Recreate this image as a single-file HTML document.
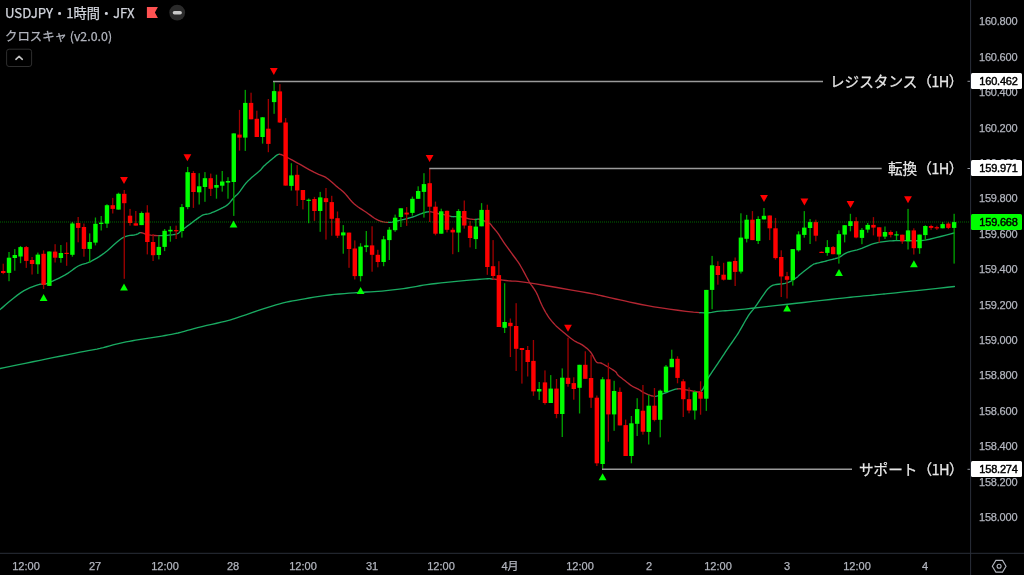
<!DOCTYPE html>
<html><head><meta charset="utf-8"><style>
html,body{margin:0;padding:0;background:#000;}
body{width:1024px;height:575px;overflow:hidden;position:relative;font-family:"Liberation Sans","Noto Sans CJK JP",sans-serif;}
svg{position:absolute;left:0;top:0;}
.t{position:absolute;white-space:nowrap;}
div{-webkit-text-stroke:0.25px currentColor;will-change:transform;}
.pl{position:absolute;left:979.3px;font-size:11px;letter-spacing:-0.2px;color:#b2b5be;line-height:14px;}
.tl{position:absolute;top:558.6px;font-size:11px;color:#b2b5be;line-height:14px;transform:translateX(-50%);}
.box{position:absolute;left:971px;width:51px;height:16px;border-radius:1.5px;font-size:11px;line-height:16px;color:#000;}
.box span{position:absolute;left:8.3px;top:0;letter-spacing:-0.2px;-webkit-text-stroke:0.45px #000;}
.lvl{position:absolute;font-family:"Noto Sans CJK JP","Liberation Sans",sans-serif;font-size:14.6px;color:#e6e6e6;line-height:16px;}
</style></head><body>
<svg width="1024" height="575" viewBox="0 0 1024 575">
<g fill="none" stroke-width="1.35" stroke-linejoin="round" stroke-linecap="round">
<path d="M0.00,368.50 L4.35,367.61 L10.37,366.37 L17.50,364.91 L25.19,363.33 L32.87,361.76 L40.00,360.30 L46.90,358.89 L54.07,357.43 L61.25,355.98 L68.15,354.58 L74.49,353.30 L80.00,352.20 L84.50,351.33 L88.17,350.66 L91.28,350.11 L94.11,349.60 L96.93,349.06 L100.00,348.40 L103.28,347.61 L106.54,346.74 L109.78,345.84 L113.02,344.94 L116.26,344.08 L119.50,343.30 L122.75,342.59 L126.00,341.94 L129.24,341.32 L132.49,340.73 L135.74,340.16 L139.00,339.60 L142.26,339.07 L145.53,338.57 L148.80,338.09 L152.07,337.62 L155.34,337.13 L158.60,336.60 L161.85,336.06 L165.10,335.51 L168.35,334.95 L171.60,334.36 L174.85,333.71 L178.10,333.00 L181.27,332.21 L184.34,331.37 L187.41,330.47 L190.59,329.53 L193.99,328.57 L197.70,327.60 L201.98,326.57 L206.81,325.46 L211.84,324.33 L216.77,323.22 L221.26,322.19 L225.00,321.30 L227.76,320.60 L229.76,320.07 L231.33,319.62 L232.79,319.17 L234.47,318.62 L236.70,317.90 L239.47,316.98 L242.51,315.94 L245.77,314.80 L249.19,313.61 L252.72,312.40 L256.30,311.20 L260.02,309.97 L263.93,308.67 L267.96,307.34 L271.99,306.06 L275.94,304.86 L279.70,303.80 L283.16,302.92 L286.36,302.18 L289.48,301.53 L292.68,300.91 L296.13,300.29 L300.00,299.60 L304.36,298.83 L309.10,298.02 L314.09,297.19 L319.20,296.39 L324.31,295.65 L329.30,295.00 L334.25,294.45 L339.29,293.97 L344.32,293.55 L349.27,293.17 L354.06,292.83 L358.60,292.50 L362.82,292.22 L366.76,292.01 L370.54,291.84 L374.27,291.65 L378.05,291.42 L382.00,291.10 L386.18,290.69 L390.53,290.20 L394.94,289.68 L399.29,289.12 L403.48,288.55 L407.40,288.00 L410.89,287.45 L414.00,286.89 L416.96,286.31 L419.96,285.74 L423.24,285.16 L427.00,284.60 L431.32,284.03 L436.05,283.46 L441.05,282.89 L446.18,282.33 L451.31,281.80 L456.30,281.30 L461.43,280.82 L466.87,280.34 L472.31,279.89 L477.43,279.48 L481.93,279.14 L485.50,278.90 L487.82,278.75 L489.06,278.69 L489.69,278.69 L490.14,278.75 L490.86,278.86 L492.30,279.00" stroke="#1aab62"/>
<path d="M492.30,279.00 L494.48,279.20 L497.03,279.47 L499.86,279.79 L502.86,280.14 L505.90,280.48 L508.90,280.80 L511.39,281.00 L513.39,281.08 L515.43,281.16 L518.09,281.36 L521.93,281.80 L527.50,282.60 L535.77,283.93 L546.49,285.73 L558.39,287.76 L570.19,289.81 L580.61,291.63 L588.40,293.00 L593.09,293.84 L595.61,294.31 L596.76,294.57 L597.34,294.74 L598.15,294.97 L600.00,295.40 L602.69,296.00 L605.53,296.66 L608.60,297.37 L611.99,298.14 L615.76,298.99 L620.00,299.90 L624.72,300.92 L629.86,302.06 L635.39,303.26 L641.27,304.49 L647.49,305.68 L654.00,306.80 L661.25,307.93 L669.34,309.12 L677.76,310.28 L685.99,311.33 L693.51,312.16 L699.80,312.70" stroke="#b42632"/>
<path d="M699.80,312.70 L704.67,312.87 L708.49,312.71 L711.59,312.36 L714.33,311.90 L717.02,311.44 L720.00,311.10 L722.88,310.90 L725.30,310.76 L727.68,310.62 L730.43,310.44 L733.97,310.15 L738.70,309.70 L744.83,309.06 L752.07,308.27 L760.09,307.37 L768.57,306.42 L777.18,305.45 L785.60,304.50 L794.26,303.53 L803.52,302.49 L812.91,301.43 L821.96,300.40 L830.21,299.48 L837.20,298.70 L842.70,298.10 L847.04,297.63 L850.58,297.26 L853.67,296.94 L856.70,296.63 L860.00,296.30 L863.54,295.95 L867.03,295.62 L870.44,295.30 L873.75,294.99 L876.94,294.69 L880.00,294.40 L882.38,294.17 L883.99,294.02 L885.49,293.88 L887.52,293.67 L890.74,293.34 L895.80,292.80 L903.77,291.95 L914.33,290.81 L926.09,289.55 L937.62,288.31 L947.53,287.24 L954.40,286.50" stroke="#1aab62"/>
<path d="M0.00,309.60 L2.32,307.64 L5.57,304.85 L9.39,301.59 L13.46,298.21 L17.41,295.10 L20.90,292.60 L24.04,290.69 L27.11,289.08 L30.08,287.72 L32.89,286.58 L35.48,285.62 L37.80,284.80 L39.67,284.29 L41.10,284.16 L42.32,284.20 L43.55,284.23 L45.03,284.06 L47.00,283.50 L49.57,282.49 L52.59,281.19 L55.86,279.67 L59.18,278.06 L62.36,276.44 L65.20,274.90 L67.69,273.38 L70.00,271.78 L72.16,270.17 L74.23,268.63 L76.26,267.21 L78.30,266.00 L80.30,265.08 L82.20,264.42 L84.07,263.89 L85.95,263.37 L87.91,262.71 L90.00,261.80 L92.20,260.67 L94.46,259.44 L96.79,258.09 L99.22,256.58 L101.75,254.89 L104.40,253.00 L107.27,250.70 L110.37,247.96 L113.58,245.04 L116.77,242.21 L119.82,239.71 L122.60,237.80 L125.17,236.57 L127.64,235.83 L129.96,235.43 L132.11,235.21 L134.03,235.02 L135.70,234.70 L137.01,234.24 L137.97,233.77 L138.71,233.32 L139.36,232.95 L140.05,232.70 L140.90,232.60" stroke="#1aab62"/>
<path d="M140.90,232.60 L141.85,232.72 L142.78,233.03 L143.75,233.46 L144.81,233.93 L146.01,234.37 L147.40,234.70 L149.04,234.95 L150.90,235.18 L152.90,235.38 L154.97,235.53 L157.03,235.64 L159.00,235.70" stroke="#b42632"/>
<path d="M159.00,235.70 L160.95,235.69 L162.94,235.61 L164.93,235.49 L166.86,235.34 L168.66,235.17 L170.30,235.00 L171.76,234.84 L173.10,234.68 L174.31,234.50 L175.43,234.29 L176.45,234.03 L177.40,233.70 L178.17,233.33 L178.73,232.94 L179.21,232.51 L179.71,231.99 L180.37,231.36 L181.30,230.60 L182.58,229.63 L184.14,228.47 L185.85,227.20 L187.59,225.91 L189.25,224.68 L190.70,223.60 L191.93,222.68 L193.03,221.84 L194.05,221.06 L195.02,220.33 L195.99,219.62 L197.00,218.90 L198.04,218.16 L199.07,217.41 L200.11,216.69 L201.14,216.01 L202.17,215.40 L203.20,214.90 L204.20,214.56 L205.15,214.37 L206.10,214.25 L207.10,214.13 L208.18,213.94 L209.40,213.60 L210.79,213.10 L212.33,212.49 L213.95,211.81 L215.61,211.09 L217.24,210.34 L218.80,209.60 L220.31,208.88 L221.81,208.17 L223.30,207.44 L224.74,206.66 L226.11,205.82 L227.40,204.90 L228.58,203.85 L229.67,202.68 L230.69,201.45 L231.67,200.21 L232.63,199.01 L233.60,197.90 L234.55,196.93 L235.46,196.07 L236.34,195.25 L237.23,194.41 L238.15,193.48 L239.10,192.40 L240.10,191.12 L241.14,189.67 L242.21,188.14 L243.28,186.60 L244.35,185.13 L245.40,183.80 L246.41,182.64 L247.39,181.59 L248.37,180.61 L249.37,179.64 L250.44,178.66 L251.60,177.60 L252.92,176.44 L254.40,175.20 L255.94,173.94 L257.45,172.70 L258.83,171.54 L260.00,170.50 L260.85,169.65 L261.44,168.96 L261.91,168.34 L262.38,167.72 L263.00,167.00 L263.90,166.10 L265.14,164.95 L266.64,163.61 L268.28,162.18 L269.96,160.74 L271.57,159.42 L273.00,158.30 L274.21,157.32 L275.27,156.38 L276.27,155.55 L277.27,154.89 L278.36,154.45 L279.60,154.30" stroke="#1aab62"/>
<path d="M279.60,154.30 L281.02,154.51 L282.55,155.04 L284.16,155.79 L285.83,156.69 L287.52,157.62 L289.20,158.50 L290.84,159.33 L292.44,160.20 L294.07,161.10 L295.78,162.06 L297.60,163.09 L299.60,164.20 L301.85,165.46 L304.32,166.86 L306.91,168.32 L309.53,169.79 L312.06,171.17 L314.40,172.40 L316.56,173.41 L318.61,174.26 L320.57,175.02 L322.48,175.79 L324.35,176.65 L326.20,177.70 L328.05,178.98 L329.88,180.44 L331.67,182.00 L333.41,183.57 L335.06,185.06 L336.60,186.40 L337.97,187.50 L339.18,188.43 L340.31,189.28 L341.43,190.16 L342.63,191.20 L344.00,192.50 L345.53,194.14 L347.16,196.05 L348.87,198.11 L350.64,200.20 L352.46,202.21 L354.30,204.00 L356.19,205.57 L358.15,207.02 L360.16,208.37 L362.18,209.68 L364.20,210.98 L366.20,212.30 L368.19,213.71 L370.19,215.17 L372.18,216.63 L374.16,218.00 L376.10,219.22 L378.00,220.20 L379.83,220.95 L381.61,221.51 L383.35,221.92 L385.08,222.19 L386.82,222.34 L388.60,222.40" stroke="#b42632"/>
<path d="M388.60,222.40 L390.39,222.33 L392.16,222.10 L393.95,221.75 L395.77,221.33 L397.65,220.86 L399.60,220.40 L401.68,219.92 L403.88,219.39 L406.13,218.83 L408.38,218.23 L410.55,217.62 L412.60,217.00 L414.54,216.34 L416.42,215.61 L418.23,214.87 L419.96,214.16 L421.59,213.52 L423.10,213.00 L424.46,212.59 L425.66,212.26 L426.77,211.99 L427.83,211.81 L428.89,211.71 L430.00,211.70" stroke="#1aab62"/>
<path d="M430.00,211.70 L431.23,211.83 L432.53,212.10 L433.84,212.46 L435.08,212.83 L436.16,213.17 L437.00,213.40" stroke="#b42632"/>
<path d="M437.00,213.40 L437.51,213.51 L437.73,213.55 L437.79,213.54 L437.84,213.53 L437.99,213.54 L438.40,213.60" stroke="#1aab62"/>
<path d="M438.40,213.60 L439.06,213.71 L439.87,213.84 L440.80,214.00 L441.80,214.18 L442.85,214.38 L443.90,214.60 L445.04,214.87 L446.30,215.20 L447.61,215.54 L448.87,215.88 L450.00,216.18 L450.90,216.40" stroke="#b42632"/>
<path d="M450.90,216.40 L451.52,216.54 L451.91,216.63 L452.17,216.67 L452.39,216.69 L452.63,216.69 L453.00,216.70 L453.47,216.70 L453.98,216.68 L454.52,216.65 L455.11,216.62 L455.73,216.60 L456.40,216.60" stroke="#1aab62"/>
<path d="M456.40,216.60 L457.10,216.61 L457.82,216.61 L458.58,216.62 L459.40,216.67 L460.30,216.75 L461.30,216.90 L462.44,217.14 L463.71,217.46 L465.07,217.83 L466.44,218.20 L467.77,218.53 L469.00,218.80 L470.15,219.00 L471.28,219.16 L472.36,219.29 L473.39,219.39 L474.34,219.46 L475.20,219.50" stroke="#b42632"/>
<path d="M475.20,219.50 L475.92,219.47 L476.49,219.37 L476.99,219.23 L477.48,219.11 L478.03,219.05 L478.70,219.10" stroke="#1aab62"/>
<path d="M478.70,219.10 L479.51,219.26 L480.42,219.51 L481.38,219.81 L482.37,220.16 L483.35,220.53 L484.30,220.90 L485.24,221.27 L486.20,221.67 L487.15,222.08 L488.07,222.52 L488.93,222.99 L489.70,223.50 L490.34,224.03 L490.87,224.58 L491.34,225.16 L491.80,225.78 L492.31,226.45 L492.90,227.20 L493.58,227.99 L494.30,228.81 L495.06,229.69 L495.87,230.65 L496.71,231.71 L497.60,232.90 L498.53,234.24 L499.50,235.70 L500.51,237.28 L501.56,238.92 L502.66,240.60 L503.80,242.30 L505.01,244.03 L506.28,245.82 L507.59,247.65 L508.93,249.50 L510.28,251.36 L511.60,253.20 L512.91,254.99 L514.23,256.74 L515.55,258.50 L516.87,260.30 L518.19,262.19 L519.50,264.20 L520.86,266.48 L522.30,269.01 L523.72,271.64 L525.08,274.17 L526.30,276.45 L527.30,278.30 L528.00,279.58 L528.44,280.42 L528.74,280.99 L529.02,281.50 L529.40,282.14 L530.00,283.10 L530.84,284.35 L531.84,285.72 L532.93,287.23 L534.07,288.86 L535.21,290.61 L536.30,292.50 L537.34,294.60 L538.37,296.94 L539.40,299.41 L540.43,301.90 L541.46,304.30 L542.50,306.50 L543.53,308.51 L544.56,310.42 L545.58,312.24 L546.62,313.98 L547.69,315.66 L548.80,317.30 L549.96,318.89 L551.16,320.41 L552.39,321.88 L553.63,323.29 L554.87,324.63 L556.10,325.90 L557.28,327.06 L558.42,328.10 L559.56,329.07 L560.74,330.04 L562.00,331.06 L563.40,332.20 L564.98,333.51 L566.71,334.96 L568.53,336.47 L570.37,337.95 L572.15,339.32 L573.80,340.50 L575.32,341.43 L576.75,342.16 L578.13,342.78 L579.48,343.38 L580.83,344.06 L582.20,344.90 L583.62,345.89 L585.06,346.96 L586.50,348.10 L587.91,349.32 L589.25,350.62 L590.50,352.00 L591.64,353.60 L592.69,355.43 L593.67,357.35 L594.62,359.19 L595.56,360.79 L596.50,362.00 L597.36,362.67 L598.09,362.90 L598.81,362.89 L599.63,362.85 L600.66,362.98 L602.00,363.50 L603.85,364.48 L606.15,365.79 L608.66,367.26 L611.14,368.77 L613.33,370.16 L615.00,371.30 L616.01,372.12 L616.53,372.74 L616.77,373.24 L616.94,373.73 L617.25,374.28 L617.90,375.00 L618.93,375.92 L620.19,376.97 L621.59,378.09 L623.03,379.22 L624.43,380.31 L625.70,381.30 L626.84,382.19 L627.91,383.04 L628.95,383.85 L629.96,384.61 L630.97,385.33 L632.00,386.00 L633.03,386.60 L634.05,387.11 L635.07,387.59 L636.09,388.05 L637.13,388.54 L638.20,389.10 L639.26,389.74 L640.31,390.43 L641.37,391.15 L642.48,391.87 L643.68,392.56 L645.00,393.20 L646.47,393.85 L648.06,394.54 L649.74,395.21 L651.47,395.78 L653.20,396.17 L654.90,396.30" stroke="#b42632"/>
<path d="M654.90,396.30 L656.54,396.13 L658.16,395.71 L659.78,395.11 L661.44,394.40 L663.17,393.68 L665.00,393.00 L666.96,392.28 L669.02,391.45 L671.16,390.59 L673.32,389.80 L675.48,389.17 L677.60,388.80" stroke="#1aab62"/>
<path d="M677.60,388.80 L679.69,388.75 L681.80,388.97 L683.90,389.34 L685.98,389.79 L688.02,390.21 L690.00,390.50 L691.96,390.84 L693.91,391.33 L695.83,391.79 L697.67,392.04 L699.40,391.91 L701.00,391.20" stroke="#b42632"/>
<path d="M701.00,391.20 L702.39,389.80 L703.60,387.83 L704.70,385.47 L705.78,382.91 L706.92,380.32 L708.20,377.90 L709.64,375.60 L711.17,373.26 L712.76,370.90 L714.39,368.53 L716.01,366.16 L717.60,363.80 L719.18,361.43 L720.76,359.04 L722.35,356.65 L723.93,354.28 L725.48,351.96 L727.00,349.70 L728.53,347.46 L730.08,345.21 L731.61,343.01 L733.07,340.90 L734.42,338.95 L735.60,337.20 L736.56,335.75 L737.33,334.58 L737.98,333.56 L738.59,332.57 L739.23,331.49 L740.00,330.20 L740.90,328.64 L741.89,326.90 L742.91,325.07 L743.93,323.25 L744.91,321.53 L745.80,320.00 L746.58,318.69 L747.28,317.53 L747.94,316.47 L748.59,315.46 L749.26,314.45 L750.00,313.40 L750.76,312.40 L751.49,311.51 L752.25,310.63 L753.09,309.64 L754.06,308.43 L755.20,306.90 L756.63,304.86 L758.33,302.36 L760.16,299.65 L761.98,296.96 L763.64,294.53 L765.00,292.60 L766.01,291.22 L766.78,290.20 L767.39,289.44 L767.93,288.84 L768.51,288.29 L769.20,287.70 L769.92,287.09 L770.59,286.55 L771.28,286.06 L772.08,285.62 L773.09,285.20 L774.40,284.80 L776.11,284.46 L778.17,284.21 L780.44,283.99 L782.77,283.74 L785.01,283.40 L787.00,282.90 L788.81,282.20 L790.55,281.34 L792.21,280.38 L793.74,279.41 L795.11,278.49 L796.30,277.70 L797.14,277.12 L797.64,276.71 L797.98,276.36 L798.36,275.94 L798.97,275.36 L800.00,274.50 L801.61,273.22 L803.68,271.57 L805.98,269.76 L808.29,267.96 L810.37,266.38 L812.00,265.20 L813.07,264.48 L813.74,264.09 L814.19,263.91 L814.59,263.82 L815.14,263.72 L816.00,263.50 L817.24,263.16 L818.73,262.79 L820.36,262.40 L822.01,262.01 L823.60,261.64 L825.00,261.30 L826.19,260.99 L827.24,260.72 L828.23,260.46 L829.19,260.19 L830.19,259.91 L831.30,259.60 L832.51,259.28 L833.79,258.97 L835.10,258.64 L836.44,258.27 L837.78,257.83 L839.10,257.30 L840.36,256.64 L841.56,255.86 L842.76,255.02 L844.03,254.16 L845.42,253.34 L847.00,252.60 L848.79,251.98 L850.74,251.45 L852.81,250.95 L854.97,250.44 L857.18,249.87 L859.40,249.20 L861.67,248.37 L864.03,247.41 L866.44,246.39 L868.86,245.38 L871.22,244.46 L873.50,243.70 L875.69,243.10 L877.84,242.61 L879.94,242.20 L882.00,241.86 L884.02,241.57 L886.00,241.30 L887.94,241.08 L889.84,240.91 L891.70,240.80 L893.51,240.72 L895.28,240.66 L897.00,240.60 L898.54,240.57 L899.88,240.57 L901.17,240.59 L902.57,240.61 L904.23,240.62 L906.30,240.60 L908.75,240.62 L911.46,240.71 L914.42,240.79 L917.66,240.77 L921.18,240.57 L925.00,240.10 L929.57,239.22 L934.98,237.96 L940.67,236.52 L946.10,235.09 L950.73,233.85 L954.00,233.00" stroke="#1aab62"/>
</g>
<rect x="2.60" y="263.7" width="1.3" height="10.5" fill="#a00000"/>
<rect x="8.36" y="252.0" width="1.3" height="29.2" fill="#00a400"/>
<rect x="14.12" y="249.1" width="1.3" height="21.6" fill="#00a400"/>
<rect x="19.89" y="246.0" width="1.3" height="17.2" fill="#00a400"/>
<rect x="25.65" y="246.0" width="1.3" height="21.9" fill="#a00000"/>
<rect x="31.41" y="257.0" width="1.3" height="17.5" fill="#a00000"/>
<rect x="37.18" y="252.6" width="1.3" height="21.3" fill="#00a400"/>
<rect x="42.94" y="250.4" width="1.3" height="38.6" fill="#a00000"/>
<rect x="48.70" y="251.5" width="1.3" height="34.4" fill="#00a400"/>
<rect x="54.46" y="244.2" width="1.3" height="18.3" fill="#a00000"/>
<rect x="60.23" y="245.0" width="1.3" height="17.7" fill="#00a400"/>
<rect x="65.99" y="242.3" width="1.3" height="23.5" fill="#a00000"/>
<rect x="71.75" y="222.0" width="1.3" height="34.7" fill="#00a400"/>
<rect x="77.52" y="217.0" width="1.3" height="25.3" fill="#a00000"/>
<rect x="83.28" y="223.5" width="1.3" height="33.2" fill="#a00000"/>
<rect x="89.04" y="233.4" width="1.3" height="29.3" fill="#00a400"/>
<rect x="94.81" y="217.5" width="1.3" height="27.9" fill="#00a400"/>
<rect x="100.57" y="216.0" width="1.3" height="14.5" fill="#00a400"/>
<rect x="106.33" y="204.2" width="1.3" height="23.7" fill="#00a400"/>
<rect x="112.09" y="197.9" width="1.3" height="15.6" fill="#a00000"/>
<rect x="117.86" y="192.7" width="1.3" height="16.9" fill="#00a400"/>
<rect x="123.62" y="190.0" width="1.3" height="88.8" fill="#a00000"/>
<rect x="129.38" y="208.9" width="1.3" height="16.7" fill="#a00000"/>
<rect x="135.15" y="211.0" width="1.3" height="14.6" fill="#a00000"/>
<rect x="140.91" y="211.5" width="1.3" height="13.6" fill="#00a400"/>
<rect x="146.67" y="205.2" width="1.3" height="49.2" fill="#a00000"/>
<rect x="152.44" y="234.0" width="1.3" height="27.0" fill="#a00000"/>
<rect x="158.20" y="236.3" width="1.3" height="23.1" fill="#00a400"/>
<rect x="163.96" y="229.0" width="1.3" height="22.1" fill="#00a400"/>
<rect x="169.72" y="226.2" width="1.3" height="15.5" fill="#00a400"/>
<rect x="175.49" y="225.6" width="1.3" height="13.4" fill="#a00000"/>
<rect x="181.25" y="204.0" width="1.3" height="33.6" fill="#00a400"/>
<rect x="187.01" y="166.9" width="1.3" height="42.3" fill="#00a400"/>
<rect x="192.78" y="171.1" width="1.3" height="36.8" fill="#a00000"/>
<rect x="198.54" y="173.2" width="1.3" height="31.3" fill="#00a400"/>
<rect x="204.30" y="172.1" width="1.3" height="29.7" fill="#00a400"/>
<rect x="210.07" y="173.6" width="1.3" height="22.4" fill="#a00000"/>
<rect x="215.83" y="174.7" width="1.3" height="24.0" fill="#00a400"/>
<rect x="221.59" y="171.0" width="1.3" height="20.6" fill="#00a400"/>
<rect x="227.35" y="177.2" width="1.3" height="21.5" fill="#00a400"/>
<rect x="233.12" y="133.4" width="1.3" height="82.5" fill="#00a400"/>
<rect x="238.88" y="109.9" width="1.3" height="40.7" fill="#a00000"/>
<rect x="244.64" y="89.9" width="1.3" height="61.0" fill="#00a400"/>
<rect x="250.41" y="92.7" width="1.3" height="26.6" fill="#a00000"/>
<rect x="256.17" y="110.7" width="1.3" height="26.3" fill="#a00000"/>
<rect x="261.93" y="117.0" width="1.3" height="26.6" fill="#00a400"/>
<rect x="267.70" y="99.0" width="1.3" height="53.2" fill="#a00000"/>
<rect x="273.46" y="81.3" width="1.3" height="32.5" fill="#00a400"/>
<rect x="279.22" y="84.1" width="1.3" height="38.8" fill="#a00000"/>
<rect x="284.99" y="118.1" width="1.3" height="67.5" fill="#a00000"/>
<rect x="290.75" y="163.2" width="1.3" height="27.4" fill="#00a400"/>
<rect x="296.51" y="165.1" width="1.3" height="40.9" fill="#a00000"/>
<rect x="302.27" y="190.0" width="1.3" height="19.4" fill="#a00000"/>
<rect x="308.04" y="198.5" width="1.3" height="24.7" fill="#00a400"/>
<rect x="313.80" y="196.9" width="1.3" height="24.0" fill="#a00000"/>
<rect x="319.56" y="191.9" width="1.3" height="39.9" fill="#00a400"/>
<rect x="325.33" y="188.0" width="1.3" height="51.6" fill="#a00000"/>
<rect x="331.09" y="195.8" width="1.3" height="39.9" fill="#a00000"/>
<rect x="336.85" y="211.5" width="1.3" height="26.5" fill="#a00000"/>
<rect x="342.62" y="225.1" width="1.3" height="28.6" fill="#00a400"/>
<rect x="348.38" y="232.6" width="1.3" height="35.2" fill="#a00000"/>
<rect x="354.14" y="240.4" width="1.3" height="39.1" fill="#a00000"/>
<rect x="359.90" y="243.2" width="1.3" height="38.2" fill="#00a400"/>
<rect x="365.67" y="231.0" width="1.3" height="21.1" fill="#00a400"/>
<rect x="371.43" y="226.3" width="1.3" height="45.4" fill="#a00000"/>
<rect x="377.19" y="249.8" width="1.3" height="17.5" fill="#a00000"/>
<rect x="382.96" y="236.0" width="1.3" height="30.2" fill="#00a400"/>
<rect x="388.72" y="227.1" width="1.3" height="32.9" fill="#00a400"/>
<rect x="394.48" y="214.6" width="1.3" height="17.2" fill="#00a400"/>
<rect x="400.25" y="208.3" width="1.3" height="18.7" fill="#00a400"/>
<rect x="406.01" y="207.1" width="1.3" height="18.8" fill="#a00000"/>
<rect x="411.77" y="196.6" width="1.3" height="19.1" fill="#00a400"/>
<rect x="417.53" y="186.3" width="1.3" height="12.5" fill="#00a400"/>
<rect x="423.30" y="173.2" width="1.3" height="44.4" fill="#00a400"/>
<rect x="429.06" y="168.5" width="1.3" height="53.5" fill="#a00000"/>
<rect x="434.82" y="201.6" width="1.3" height="33.7" fill="#a00000"/>
<rect x="440.59" y="208.7" width="1.3" height="25.0" fill="#00a400"/>
<rect x="446.35" y="210.6" width="1.3" height="21.8" fill="#a00000"/>
<rect x="452.11" y="227.7" width="1.3" height="26.5" fill="#a00000"/>
<rect x="457.88" y="209.1" width="1.3" height="43.0" fill="#00a400"/>
<rect x="463.64" y="200.5" width="1.3" height="28.1" fill="#a00000"/>
<rect x="469.40" y="220.8" width="1.3" height="26.6" fill="#a00000"/>
<rect x="475.16" y="219.7" width="1.3" height="29.3" fill="#00a400"/>
<rect x="480.93" y="203.1" width="1.3" height="23.2" fill="#00a400"/>
<rect x="486.69" y="204.7" width="1.3" height="70.1" fill="#a00000"/>
<rect x="492.45" y="240.1" width="1.3" height="38.9" fill="#a00000"/>
<rect x="498.22" y="261.2" width="1.3" height="65.8" fill="#a00000"/>
<rect x="503.98" y="283.2" width="1.3" height="49.8" fill="#00a400"/>
<rect x="509.74" y="318.5" width="1.3" height="38.5" fill="#a00000"/>
<rect x="515.50" y="303.2" width="1.3" height="67.8" fill="#a00000"/>
<rect x="521.27" y="348.0" width="1.3" height="35.6" fill="#a00000"/>
<rect x="527.03" y="346.0" width="1.3" height="30.5" fill="#a00000"/>
<rect x="532.79" y="340.0" width="1.3" height="55.8" fill="#a00000"/>
<rect x="538.56" y="382.0" width="1.3" height="17.9" fill="#00a400"/>
<rect x="544.32" y="370.4" width="1.3" height="34.2" fill="#a00000"/>
<rect x="550.08" y="375.1" width="1.3" height="27.9" fill="#00a400"/>
<rect x="555.85" y="379.0" width="1.3" height="39.2" fill="#a00000"/>
<rect x="561.61" y="368.4" width="1.3" height="68.6" fill="#00a400"/>
<rect x="567.37" y="337.7" width="1.3" height="49.0" fill="#a00000"/>
<rect x="573.13" y="377.3" width="1.3" height="22.4" fill="#a00000"/>
<rect x="578.90" y="364.8" width="1.3" height="48.7" fill="#00a400"/>
<rect x="584.66" y="351.3" width="1.3" height="27.5" fill="#a00000"/>
<rect x="590.42" y="354.9" width="1.3" height="53.0" fill="#a00000"/>
<rect x="596.19" y="395.5" width="1.3" height="70.5" fill="#a00000"/>
<rect x="601.95" y="377.1" width="1.3" height="92.2" fill="#00a400"/>
<rect x="607.71" y="362.7" width="1.3" height="79.0" fill="#a00000"/>
<rect x="613.48" y="380.8" width="1.3" height="50.0" fill="#00a400"/>
<rect x="619.24" y="387.5" width="1.3" height="37.9" fill="#a00000"/>
<rect x="625.00" y="419.6" width="1.3" height="36.4" fill="#a00000"/>
<rect x="630.76" y="416.0" width="1.3" height="47.3" fill="#00a400"/>
<rect x="636.53" y="398.2" width="1.3" height="37.8" fill="#00a400"/>
<rect x="642.29" y="385.0" width="1.3" height="49.6" fill="#a00000"/>
<rect x="648.05" y="394.8" width="1.3" height="49.7" fill="#00a400"/>
<rect x="653.82" y="388.0" width="1.3" height="33.4" fill="#a00000"/>
<rect x="659.58" y="389.6" width="1.3" height="47.7" fill="#00a400"/>
<rect x="665.34" y="365.0" width="1.3" height="27.0" fill="#00a400"/>
<rect x="671.11" y="349.7" width="1.3" height="17.5" fill="#00a400"/>
<rect x="676.87" y="356.3" width="1.3" height="27.0" fill="#a00000"/>
<rect x="682.63" y="379.2" width="1.3" height="37.8" fill="#a00000"/>
<rect x="688.39" y="387.5" width="1.3" height="25.8" fill="#a00000"/>
<rect x="694.16" y="390.4" width="1.3" height="29.2" fill="#00a400"/>
<rect x="699.92" y="381.3" width="1.3" height="33.4" fill="#a00000"/>
<rect x="705.68" y="289.9" width="1.3" height="121.0" fill="#00a400"/>
<rect x="711.45" y="255.9" width="1.3" height="53.3" fill="#00a400"/>
<rect x="717.21" y="261.3" width="1.3" height="23.4" fill="#a00000"/>
<rect x="722.97" y="262.8" width="1.3" height="17.7" fill="#a00000"/>
<rect x="728.74" y="261.7" width="1.3" height="18.0" fill="#00a400"/>
<rect x="734.50" y="257.5" width="1.3" height="28.5" fill="#a00000"/>
<rect x="740.26" y="213.3" width="1.3" height="60.2" fill="#00a400"/>
<rect x="746.02" y="214.9" width="1.3" height="27.5" fill="#00a400"/>
<rect x="751.79" y="211.1" width="1.3" height="29.0" fill="#a00000"/>
<rect x="757.55" y="216.3" width="1.3" height="27.7" fill="#00a400"/>
<rect x="763.31" y="208.0" width="1.3" height="11.4" fill="#00a400"/>
<rect x="769.08" y="215.5" width="1.3" height="24.6" fill="#a00000"/>
<rect x="774.84" y="217.9" width="1.3" height="41.7" fill="#a00000"/>
<rect x="780.60" y="250.3" width="1.3" height="46.7" fill="#a00000"/>
<rect x="786.37" y="271.9" width="1.3" height="26.6" fill="#a00000"/>
<rect x="792.13" y="249.1" width="1.3" height="36.5" fill="#00a400"/>
<rect x="797.89" y="231.3" width="1.3" height="20.3" fill="#00a400"/>
<rect x="803.65" y="211.1" width="1.3" height="26.6" fill="#00a400"/>
<rect x="809.42" y="219.0" width="1.3" height="25.0" fill="#00a400"/>
<rect x="815.18" y="219.7" width="1.3" height="21.6" fill="#a00000"/>
<rect x="820.94" y="251.5" width="1.3" height="1.5" fill="#a00000"/>
<rect x="826.71" y="240.1" width="1.3" height="15.6" fill="#00a400"/>
<rect x="832.47" y="246.0" width="1.3" height="8.2" fill="#a00000"/>
<rect x="838.23" y="230.4" width="1.3" height="33.2" fill="#00a400"/>
<rect x="844.00" y="225.2" width="1.3" height="17.2" fill="#00a400"/>
<rect x="849.76" y="213.8" width="1.3" height="17.5" fill="#00a400"/>
<rect x="855.52" y="217.2" width="1.3" height="21.1" fill="#a00000"/>
<rect x="861.28" y="228.0" width="1.3" height="16.2" fill="#00a400"/>
<rect x="867.05" y="223.0" width="1.3" height="9.7" fill="#00a400"/>
<rect x="872.81" y="217.1" width="1.3" height="18.3" fill="#a00000"/>
<rect x="878.57" y="227.3" width="1.3" height="15.3" fill="#a00000"/>
<rect x="884.34" y="226.5" width="1.3" height="12.5" fill="#00a400"/>
<rect x="890.10" y="230.4" width="1.3" height="7.0" fill="#a00000"/>
<rect x="895.86" y="231.2" width="1.3" height="8.9" fill="#00a400"/>
<rect x="901.63" y="234.7" width="1.3" height="9.1" fill="#a00000"/>
<rect x="907.39" y="208.9" width="1.3" height="40.6" fill="#00a400"/>
<rect x="913.15" y="228.3" width="1.3" height="26.2" fill="#a00000"/>
<rect x="918.91" y="234.6" width="1.3" height="19.2" fill="#00a400"/>
<rect x="924.68" y="225.2" width="1.3" height="15.7" fill="#00a400"/>
<rect x="930.44" y="224.7" width="1.3" height="5.2" fill="#a00000"/>
<rect x="936.20" y="225.7" width="1.3" height="4.2" fill="#a00000"/>
<rect x="941.97" y="222.1" width="1.3" height="6.2" fill="#00a400"/>
<rect x="947.73" y="222.1" width="1.3" height="7.0" fill="#a00000"/>
<rect x="953.49" y="213.8" width="1.3" height="49.8" fill="#00a400"/>
<rect x="1.05" y="271.0" width="4.4" height="2.0" fill="#ff0000"/>
<rect x="6.81" y="257.7" width="4.4" height="15.2" fill="#00ff00"/>
<rect x="12.57" y="255.0" width="4.4" height="3.0" fill="#00ff00"/>
<rect x="18.34" y="247.1" width="4.4" height="9.4" fill="#00ff00"/>
<rect x="24.10" y="247.1" width="4.4" height="13.8" fill="#ff0000"/>
<rect x="29.86" y="260.0" width="4.4" height="4.0" fill="#ff0000"/>
<rect x="35.63" y="254.6" width="4.4" height="9.7" fill="#00ff00"/>
<rect x="41.39" y="253.8" width="4.4" height="31.0" fill="#ff0000"/>
<rect x="47.15" y="251.5" width="4.4" height="34.4" fill="#00ff00"/>
<rect x="52.91" y="251.6" width="4.4" height="6.1" fill="#ff0000"/>
<rect x="58.68" y="253.0" width="4.4" height="5.0" fill="#00ff00"/>
<rect x="64.44" y="252.8" width="4.4" height="1.2" fill="#ff0000"/>
<rect x="70.20" y="223.5" width="4.4" height="31.3" fill="#00ff00"/>
<rect x="75.97" y="223.0" width="4.4" height="4.9" fill="#ff0000"/>
<rect x="81.73" y="227.0" width="4.4" height="21.9" fill="#ff0000"/>
<rect x="87.49" y="242.0" width="4.4" height="6.9" fill="#00ff00"/>
<rect x="93.26" y="223.8" width="4.4" height="18.8" fill="#00ff00"/>
<rect x="99.02" y="222.7" width="4.4" height="1.3" fill="#00ff00"/>
<rect x="104.78" y="205.2" width="4.4" height="18.4" fill="#00ff00"/>
<rect x="110.54" y="205.2" width="4.4" height="3.7" fill="#ff0000"/>
<rect x="116.31" y="193.8" width="4.4" height="15.8" fill="#00ff00"/>
<rect x="122.07" y="193.8" width="4.4" height="9.4" fill="#ff0000"/>
<rect x="127.83" y="215.7" width="4.4" height="7.3" fill="#ff0000"/>
<rect x="133.60" y="223.3" width="4.4" height="2.3" fill="#ff0000"/>
<rect x="139.36" y="213.0" width="4.4" height="12.1" fill="#00ff00"/>
<rect x="145.12" y="212.6" width="4.4" height="29.4" fill="#ff0000"/>
<rect x="150.89" y="242.0" width="4.4" height="13.2" fill="#ff0000"/>
<rect x="156.65" y="246.9" width="4.4" height="8.1" fill="#00ff00"/>
<rect x="162.41" y="230.8" width="4.4" height="16.1" fill="#00ff00"/>
<rect x="168.18" y="229.8" width="4.4" height="1.6" fill="#00ff00"/>
<rect x="173.94" y="230.1" width="4.4" height="1.2" fill="#ff0000"/>
<rect x="179.70" y="207.1" width="4.4" height="23.9" fill="#00ff00"/>
<rect x="185.46" y="172.2" width="4.4" height="34.9" fill="#00ff00"/>
<rect x="191.23" y="173.0" width="4.4" height="19.0" fill="#ff0000"/>
<rect x="196.99" y="186.3" width="4.4" height="6.0" fill="#00ff00"/>
<rect x="202.75" y="178.2" width="4.4" height="8.8" fill="#00ff00"/>
<rect x="208.52" y="178.2" width="4.4" height="10.6" fill="#ff0000"/>
<rect x="214.28" y="185.0" width="4.4" height="2.7" fill="#00ff00"/>
<rect x="220.04" y="181.5" width="4.4" height="4.2" fill="#00ff00"/>
<rect x="225.81" y="181.0" width="4.4" height="1.6" fill="#00ff00"/>
<rect x="231.57" y="133.4" width="4.4" height="48.6" fill="#00ff00"/>
<rect x="237.33" y="134.6" width="4.4" height="3.0" fill="#ff0000"/>
<rect x="243.09" y="102.9" width="4.4" height="34.7" fill="#00ff00"/>
<rect x="248.86" y="102.9" width="4.4" height="16.4" fill="#ff0000"/>
<rect x="254.62" y="118.8" width="4.4" height="18.2" fill="#ff0000"/>
<rect x="260.38" y="117.3" width="4.4" height="19.7" fill="#00ff00"/>
<rect x="266.15" y="128.7" width="4.4" height="15.2" fill="#ff0000"/>
<rect x="271.91" y="91.1" width="4.4" height="11.0" fill="#00ff00"/>
<rect x="277.67" y="91.4" width="4.4" height="31.1" fill="#ff0000"/>
<rect x="283.44" y="122.5" width="4.4" height="63.1" fill="#ff0000"/>
<rect x="289.20" y="175.4" width="4.4" height="10.5" fill="#00ff00"/>
<rect x="294.96" y="174.8" width="4.4" height="15.6" fill="#ff0000"/>
<rect x="300.72" y="190.0" width="4.4" height="10.0" fill="#ff0000"/>
<rect x="306.49" y="199.7" width="4.4" height="1.2" fill="#00ff00"/>
<rect x="312.25" y="199.0" width="4.4" height="12.0" fill="#ff0000"/>
<rect x="318.01" y="197.4" width="4.4" height="13.6" fill="#00ff00"/>
<rect x="323.78" y="198.2" width="4.4" height="3.9" fill="#ff0000"/>
<rect x="329.54" y="202.1" width="4.4" height="16.7" fill="#ff0000"/>
<rect x="335.30" y="218.2" width="4.4" height="17.5" fill="#ff0000"/>
<rect x="341.06" y="232.4" width="4.4" height="3.0" fill="#00ff00"/>
<rect x="346.83" y="232.6" width="4.4" height="16.4" fill="#ff0000"/>
<rect x="352.59" y="248.5" width="4.4" height="27.6" fill="#ff0000"/>
<rect x="358.35" y="246.6" width="4.4" height="29.5" fill="#00ff00"/>
<rect x="364.12" y="245.4" width="4.4" height="1.7" fill="#00ff00"/>
<rect x="369.88" y="245.4" width="4.4" height="9.4" fill="#ff0000"/>
<rect x="375.64" y="254.8" width="4.4" height="7.2" fill="#ff0000"/>
<rect x="381.41" y="239.3" width="4.4" height="22.7" fill="#00ff00"/>
<rect x="387.17" y="229.7" width="4.4" height="10.4" fill="#00ff00"/>
<rect x="392.93" y="217.7" width="4.4" height="12.5" fill="#00ff00"/>
<rect x="398.69" y="208.3" width="4.4" height="8.7" fill="#00ff00"/>
<rect x="404.46" y="212.6" width="4.4" height="1.9" fill="#ff0000"/>
<rect x="410.22" y="198.8" width="4.4" height="14.1" fill="#00ff00"/>
<rect x="415.98" y="191.0" width="4.4" height="7.8" fill="#00ff00"/>
<rect x="421.75" y="184.1" width="4.4" height="7.8" fill="#00ff00"/>
<rect x="427.51" y="183.2" width="4.4" height="23.5" fill="#ff0000"/>
<rect x="433.27" y="206.7" width="4.4" height="27.0" fill="#ff0000"/>
<rect x="439.04" y="211.3" width="4.4" height="22.4" fill="#00ff00"/>
<rect x="444.80" y="210.8" width="4.4" height="19.0" fill="#ff0000"/>
<rect x="450.56" y="229.8" width="4.4" height="2.6" fill="#ff0000"/>
<rect x="456.32" y="211.0" width="4.4" height="21.6" fill="#00ff00"/>
<rect x="462.09" y="211.0" width="4.4" height="14.5" fill="#ff0000"/>
<rect x="467.85" y="225.8" width="4.4" height="12.2" fill="#ff0000"/>
<rect x="473.61" y="226.6" width="4.4" height="12.5" fill="#00ff00"/>
<rect x="479.38" y="209.9" width="4.4" height="16.4" fill="#00ff00"/>
<rect x="485.14" y="209.9" width="4.4" height="57.1" fill="#ff0000"/>
<rect x="490.90" y="266.2" width="4.4" height="9.8" fill="#ff0000"/>
<rect x="496.67" y="275.1" width="4.4" height="51.9" fill="#ff0000"/>
<rect x="502.43" y="322.0" width="4.4" height="5.8" fill="#00ff00"/>
<rect x="508.19" y="322.8" width="4.4" height="3.4" fill="#ff0000"/>
<rect x="513.95" y="326.0" width="4.4" height="22.8" fill="#ff0000"/>
<rect x="519.72" y="348.0" width="4.4" height="2.0" fill="#ff0000"/>
<rect x="525.48" y="350.0" width="4.4" height="12.0" fill="#ff0000"/>
<rect x="531.24" y="360.9" width="4.4" height="30.5" fill="#ff0000"/>
<rect x="537.01" y="389.0" width="4.4" height="2.5" fill="#00ff00"/>
<rect x="542.77" y="382.4" width="4.4" height="20.6" fill="#ff0000"/>
<rect x="548.53" y="388.6" width="4.4" height="14.4" fill="#00ff00"/>
<rect x="554.30" y="388.6" width="4.4" height="25.4" fill="#ff0000"/>
<rect x="560.06" y="377.7" width="4.4" height="36.3" fill="#00ff00"/>
<rect x="565.82" y="377.8" width="4.4" height="6.1" fill="#ff0000"/>
<rect x="571.58" y="383.1" width="4.4" height="5.9" fill="#ff0000"/>
<rect x="577.35" y="364.8" width="4.4" height="23.0" fill="#00ff00"/>
<rect x="583.11" y="364.8" width="4.4" height="14.0" fill="#ff0000"/>
<rect x="588.87" y="378.0" width="4.4" height="19.7" fill="#ff0000"/>
<rect x="594.64" y="397.7" width="4.4" height="65.6" fill="#ff0000"/>
<rect x="600.40" y="379.3" width="4.4" height="84.7" fill="#00ff00"/>
<rect x="606.16" y="379.3" width="4.4" height="35.1" fill="#ff0000"/>
<rect x="611.93" y="391.0" width="4.4" height="23.4" fill="#00ff00"/>
<rect x="617.69" y="391.9" width="4.4" height="33.5" fill="#ff0000"/>
<rect x="623.45" y="425.1" width="4.4" height="30.9" fill="#ff0000"/>
<rect x="629.21" y="423.3" width="4.4" height="32.7" fill="#00ff00"/>
<rect x="634.98" y="409.1" width="4.4" height="14.7" fill="#00ff00"/>
<rect x="640.74" y="410.7" width="4.4" height="21.0" fill="#ff0000"/>
<rect x="646.50" y="405.7" width="4.4" height="26.2" fill="#00ff00"/>
<rect x="652.27" y="405.7" width="4.4" height="14.2" fill="#ff0000"/>
<rect x="658.03" y="390.7" width="4.4" height="29.1" fill="#00ff00"/>
<rect x="663.79" y="366.6" width="4.4" height="25.4" fill="#00ff00"/>
<rect x="669.56" y="358.8" width="4.4" height="8.4" fill="#00ff00"/>
<rect x="675.32" y="358.8" width="4.4" height="19.1" fill="#ff0000"/>
<rect x="681.08" y="381.3" width="4.4" height="17.9" fill="#ff0000"/>
<rect x="686.84" y="399.2" width="4.4" height="11.3" fill="#ff0000"/>
<rect x="692.61" y="392.1" width="4.4" height="18.4" fill="#00ff00"/>
<rect x="698.37" y="391.9" width="4.4" height="6.8" fill="#ff0000"/>
<rect x="704.13" y="289.9" width="4.4" height="108.8" fill="#00ff00"/>
<rect x="709.90" y="265.3" width="4.4" height="24.6" fill="#00ff00"/>
<rect x="715.66" y="266.0" width="4.4" height="9.0" fill="#ff0000"/>
<rect x="721.42" y="274.7" width="4.4" height="5.0" fill="#ff0000"/>
<rect x="727.19" y="261.7" width="4.4" height="18.0" fill="#00ff00"/>
<rect x="732.95" y="261.0" width="4.4" height="10.9" fill="#ff0000"/>
<rect x="738.71" y="237.6" width="4.4" height="34.0" fill="#00ff00"/>
<rect x="744.47" y="219.7" width="4.4" height="19.1" fill="#00ff00"/>
<rect x="750.24" y="219.7" width="4.4" height="20.4" fill="#ff0000"/>
<rect x="756.00" y="219.0" width="4.4" height="21.9" fill="#00ff00"/>
<rect x="761.76" y="215.8" width="4.4" height="3.6" fill="#00ff00"/>
<rect x="767.53" y="215.5" width="4.4" height="12.8" fill="#ff0000"/>
<rect x="773.29" y="228.3" width="4.4" height="29.8" fill="#ff0000"/>
<rect x="779.05" y="257.0" width="4.4" height="19.5" fill="#ff0000"/>
<rect x="784.82" y="276.2" width="4.4" height="3.6" fill="#ff0000"/>
<rect x="790.58" y="249.1" width="4.4" height="31.0" fill="#00ff00"/>
<rect x="796.34" y="234.4" width="4.4" height="15.9" fill="#00ff00"/>
<rect x="802.10" y="227.6" width="4.4" height="7.3" fill="#00ff00"/>
<rect x="807.87" y="222.1" width="4.4" height="5.9" fill="#00ff00"/>
<rect x="813.63" y="222.1" width="4.4" height="13.6" fill="#ff0000"/>
<rect x="819.39" y="251.8" width="4.4" height="1.2" fill="#ff0000"/>
<rect x="825.16" y="247.1" width="4.4" height="5.8" fill="#00ff00"/>
<rect x="830.92" y="247.1" width="4.4" height="7.1" fill="#ff0000"/>
<rect x="836.68" y="234.1" width="4.4" height="20.4" fill="#00ff00"/>
<rect x="842.45" y="225.2" width="4.4" height="9.4" fill="#00ff00"/>
<rect x="848.21" y="221.2" width="4.4" height="4.8" fill="#00ff00"/>
<rect x="853.97" y="221.2" width="4.4" height="16.3" fill="#ff0000"/>
<rect x="859.73" y="229.9" width="4.4" height="8.0" fill="#00ff00"/>
<rect x="865.50" y="224.9" width="4.4" height="4.7" fill="#00ff00"/>
<rect x="871.26" y="224.9" width="4.4" height="2.7" fill="#ff0000"/>
<rect x="877.02" y="227.3" width="4.4" height="9.3" fill="#ff0000"/>
<rect x="882.79" y="232.0" width="4.4" height="4.6" fill="#00ff00"/>
<rect x="888.55" y="232.0" width="4.4" height="2.8" fill="#ff0000"/>
<rect x="894.31" y="234.3" width="4.4" height="1.2" fill="#00ff00"/>
<rect x="900.08" y="234.7" width="4.4" height="6.6" fill="#ff0000"/>
<rect x="905.84" y="230.4" width="4.4" height="10.9" fill="#00ff00"/>
<rect x="911.60" y="230.4" width="4.4" height="17.8" fill="#ff0000"/>
<rect x="917.36" y="234.6" width="4.4" height="13.6" fill="#00ff00"/>
<rect x="923.13" y="226.0" width="4.4" height="9.1" fill="#00ff00"/>
<rect x="928.89" y="226.0" width="4.4" height="1.9" fill="#ff0000"/>
<rect x="934.65" y="227.2" width="4.4" height="1.2" fill="#ff0000"/>
<rect x="940.42" y="224.1" width="4.4" height="4.2" fill="#00ff00"/>
<rect x="946.18" y="223.6" width="4.4" height="4.3" fill="#ff0000"/>
<rect x="951.94" y="222.1" width="4.4" height="5.8" fill="#00ff00"/>
<line x1="0" y1="222" x2="970" y2="222" stroke="#00ff00" stroke-opacity="0.4" stroke-width="1" stroke-dasharray="1 1"/>
<path d="M120.1,177.0 L127.9,177.0 L124.0,184.0Z" fill="#ff0000"/>
<path d="M183.5,154.2 L191.3,154.2 L187.4,161.2Z" fill="#ff0000"/>
<path d="M269.9,67.9 L277.7,67.9 L273.8,74.9Z" fill="#ff0000"/>
<path d="M425.7,155.1 L433.5,155.1 L429.6,162.1Z" fill="#ff0000"/>
<path d="M564.1,324.8 L571.9,324.8 L568.0,331.8Z" fill="#ff0000"/>
<path d="M760.1,195.1 L767.9,195.1 L764.0,202.1Z" fill="#ff0000"/>
<path d="M800.5,198.5 L808.3,198.5 L804.4,205.5Z" fill="#ff0000"/>
<path d="M846.6,200.9 L854.4,200.9 L850.5,207.9Z" fill="#ff0000"/>
<path d="M904.1,196.3 L911.9,196.3 L908.0,203.3Z" fill="#ff0000"/>
<path d="M39.7,301.0 L47.5,301.0 L43.6,294.0Z" fill="#00ff00"/>
<path d="M120.1,290.5 L127.9,290.5 L124.0,283.5Z" fill="#00ff00"/>
<path d="M229.6,227.6 L237.4,227.6 L233.5,220.6Z" fill="#00ff00"/>
<path d="M356.7,294.1 L364.5,294.1 L360.6,287.1Z" fill="#00ff00"/>
<path d="M598.7,480.3 L606.5,480.3 L602.6,473.3Z" fill="#00ff00"/>
<path d="M783.2,311.4 L791.0,311.4 L787.1,304.4Z" fill="#00ff00"/>
<path d="M835.1,275.9 L842.9,275.9 L839.0,268.9Z" fill="#00ff00"/>
<path d="M910.0,267.3 L917.8,267.3 L913.9,260.3Z" fill="#00ff00"/>
<g stroke="#9a9a9a" stroke-width="1.5">
<line x1="273" y1="81.5" x2="823" y2="81.5"/>
<line x1="429.3" y1="168.5" x2="881.7" y2="168.5"/>
<line x1="602" y1="469.3" x2="852" y2="469.3"/>
</g>
<g stroke="#9598a1" stroke-width="1">
<line x1="967.5" y1="81.3" x2="970" y2="81.3"/>
<line x1="967.5" y1="168.5" x2="970" y2="168.5"/>
<line x1="967.5" y1="469.3" x2="970" y2="469.3"/>
</g>
<rect x="970.1" y="0" width="1" height="575" fill="#2a2e39"/>
<rect x="0" y="552.8" width="1024" height="1" fill="#2a2e39"/>
<g fill="none" stroke="#b2b5be" stroke-width="1.1">
<path d="M992.3,566.25 L995.9,560.4 L1002.5,560.4 L1006,566.25 L1002.5,572.1 L995.9,572.1 Z"/>
<circle cx="999.1" cy="566.25" r="2"/>
</g>
<path d="M146.9,7.1 L157.9,7.1 L154.9,12.5 L157.9,17.9 L146.9,17.9 Z" fill="#ff5252"/>
<circle cx="177.2" cy="12.6" r="7.9" fill="#2a2a2a"/>
<rect x="172.7" y="11.1" width="9.2" height="3.5" rx="1.75" fill="#c8c8c8"/>
<rect x="6.6" y="49.2" width="25" height="17.3" rx="2.5" fill="none" stroke="#2e2e2e" stroke-width="1"/>
<path d="M15.9,59.3 L19.1,56.4 L22.3,59.3" fill="none" stroke="#c4c4c4" stroke-width="1.6" stroke-linecap="round" stroke-linejoin="round"/>
</svg>
<div class="t" style="left:5.4px;top:4.3px;font-family:'Noto Sans CJK JP','Liberation Sans',sans-serif;font-size:13.2px;color:#d1d4dc;line-height:17px;">USDJPY・1時間・JFX</div>
<div class="t" style="left:5.2px;top:28px;font-family:'Noto Sans CJK JP','Liberation Sans',sans-serif;font-size:12.4px;color:#b2b5be;line-height:17px;">クロスキャ (v2.0.0)</div>
<div class="pl" style="top:14.2px">160.800</div>
<div class="pl" style="top:49.6px">160.600</div>
<div class="pl" style="top:85.0px">160.400</div>
<div class="pl" style="top:120.5px">160.200</div>
<div class="pl" style="top:155.9px">160.000</div>
<div class="pl" style="top:191.3px">159.800</div>
<div class="pl" style="top:226.7px">159.600</div>
<div class="pl" style="top:262.1px">159.400</div>
<div class="pl" style="top:297.6px">159.200</div>
<div class="pl" style="top:333.0px">159.000</div>
<div class="pl" style="top:368.4px">158.800</div>
<div class="pl" style="top:403.8px">158.600</div>
<div class="pl" style="top:439.2px">158.400</div>
<div class="pl" style="top:474.7px">158.200</div>
<div class="pl" style="top:510.1px">158.000</div>
<div class="tl" style="left:26px">12:00</div>
<div class="tl" style="left:95px">27</div>
<div class="tl" style="left:164.5px">12:00</div>
<div class="tl" style="left:233px">28</div>
<div class="tl" style="left:303px">12:00</div>
<div class="tl" style="left:371.5px">31</div>
<div class="tl" style="left:441px">12:00</div>
<div class="tl" style="left:510.3px">4月</div>
<div class="tl" style="left:580px">12:00</div>
<div class="tl" style="left:648.5px">2</div>
<div class="tl" style="left:718px">12:00</div>
<div class="tl" style="left:787px">3</div>
<div class="tl" style="left:856.5px">12:00</div>
<div class="tl" style="left:925px">4</div>
<div class="box" style="top:73.3px;background:#ffffff"><span>160.462</span></div>
<div class="box" style="top:160.3px;background:#ffffff"><span>159.971</span></div>
<div class="box" style="top:214.0px;background:#00ff00"><span>159.668</span></div>
<div class="box" style="top:461.3px;background:#ffffff"><span>158.274</span></div>
<div class="lvl" style="left:829.5px;top:73.3px">レジスタンス<span style="letter-spacing:-0.6px">（1H）</span></div>
<div class="lvl" style="left:887.5px;top:160px">転換<span style="letter-spacing:-0.6px">（1H）</span></div>
<div class="lvl" style="left:859px;top:461px">サポート<span style="letter-spacing:-0.6px">（1H）</span></div>
</body></html>
